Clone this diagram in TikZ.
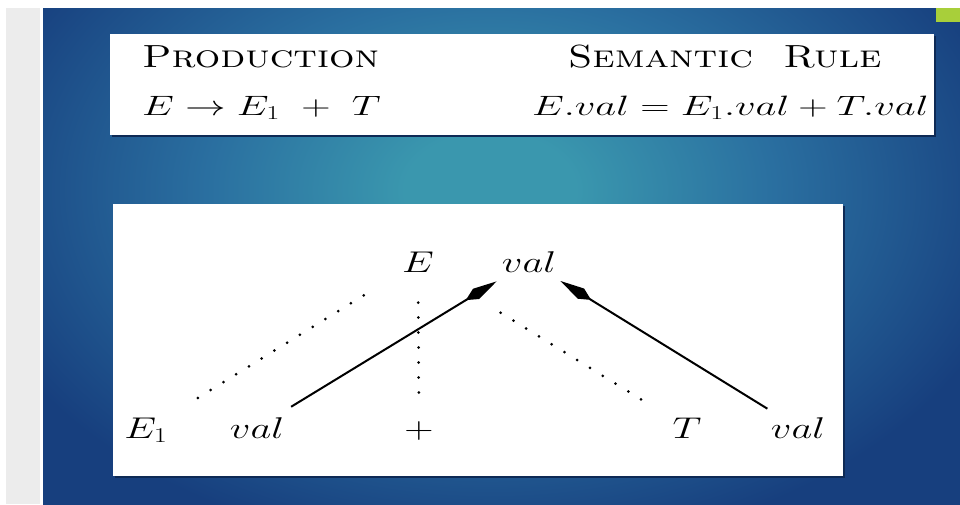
\RequirePackage{fix-cm}
\documentclass[tikz,border=0pt]{standalone}
\usepackage{graphicx}
\usetikzlibrary{arrows.meta}
\definecolor{bgdark}{HTML}{173F7E}
\definecolor{bgmid}{HTML}{2A6FA0}
\definecolor{bglight}{HTML}{3A97AE}
\definecolor{stripgray}{HTML}{ECECEC}
\definecolor{accentgreen}{HTML}{A8CF3A}
\definecolor{boxshadow}{HTML}{0E2A55}
\pgfdeclareradialshading{bgglow}{\pgfpoint{0bp}{0bp}}{color(0bp)=(bglight); color(3bp)=(bglight); color(10bp)=(bgmid); color(19bp)=(bgdark); color(50bp)=(bgdark)}
\newcommand{\wtx}[2][1.35]{\scalebox{#1}[1]{#2}}
\tikzset{
  lbl/.style={inner sep=0pt, outer sep=0pt, font=\fontsize{30}{34}\selectfont, anchor=base},
  hdr/.style={inner sep=0pt, outer sep=0pt, font=\fontsize{32}{36}\selectfont, anchor=base west},
  eqn/.style={inner sep=0pt, outer sep=0pt, font=\fontsize{28}{32}\selectfont, anchor=base west},
  dotline/.style={line width=3pt, line cap=round, dash pattern=on 0pt off 15pt},
  arr/.style={line width=2pt, -{Kite[length=36pt,width=12pt,inset=12pt]}},
  panel/.style={fill=white},
  panelshadow/.style={fill=boxshadow},
}
\begin{document}
\begin{tikzpicture}[x=1pt,y=-1pt]
\useasboundingbox (0,0) rectangle (960,504);
\fill[white] (0,0) rectangle (960,504);
\fill[stripgray] (6,8) rectangle (40,504);
\fill[bgdark] (43,8) rectangle (960,504);
\begin{scope}
  \clip (43,8) rectangle (960,504);
  \shade[shading=bgglow] (490,190) ellipse [x radius=710pt, y radius=480pt];
\end{scope}
\fill[accentgreen] (936,8) rectangle (960,22);
% panels
\fill[panelshadow] (112,36) rectangle (936,137);
\fill[panel] (110,34) rectangle (934,135);
\fill[panelshadow] (115,206) rectangle (845,478);
\fill[panel] (113,204) rectangle (843,476);
% table
\node[hdr] (hprod) at (142,67) {\wtx[1.25]{\textsc{Production}}};
\node[hdr] (hsem) at (568,67) {\wtx[1.25]{\textsc{Semantic\ \ Rule}}};
\node[eqn] (prod) at (142,115) {\wtx[1.45]{$E \rightarrow E_1\ +\ T$}};
\node[eqn] (rule) at (532,115) {\wtx[1.45]{$E.val = E_1.val + T.val$}};
% tree
\node[lbl] (E) at (418,272) {\wtx{$E$}};
\node[lbl] (valT) at (529,272) {\wtx{$val$}};
\node[lbl] (E1) at (146,438) {\wtx{$E_1$}};
\node[lbl] (valL) at (257,438) {\wtx{$val$}};
\node[lbl] (plus) at (419,438) {\wtx{$+$}};
\node[lbl] (T) at (687,438) {\wtx{$T$}};
\node[lbl] (valR) at (798,438) {\wtx{$val$}};
\draw[dotline, shorten <=61pt, shorten >=50pt] (E1.center) -- (E.center);
\draw[dotline, shorten <=38pt, shorten >=31pt] (plus.center) -- (E.center);
\draw[dotline, shorten <=54pt, shorten >=83pt] (T.center) -- (E.center);
\draw[arr, shorten <=40pt, shorten >=38pt] (valL.center) -- (valT.center);
\draw[arr, shorten <=36pt, shorten >=37pt] (valR.center) -- (valT.center);
\end{tikzpicture}
\end{document}
